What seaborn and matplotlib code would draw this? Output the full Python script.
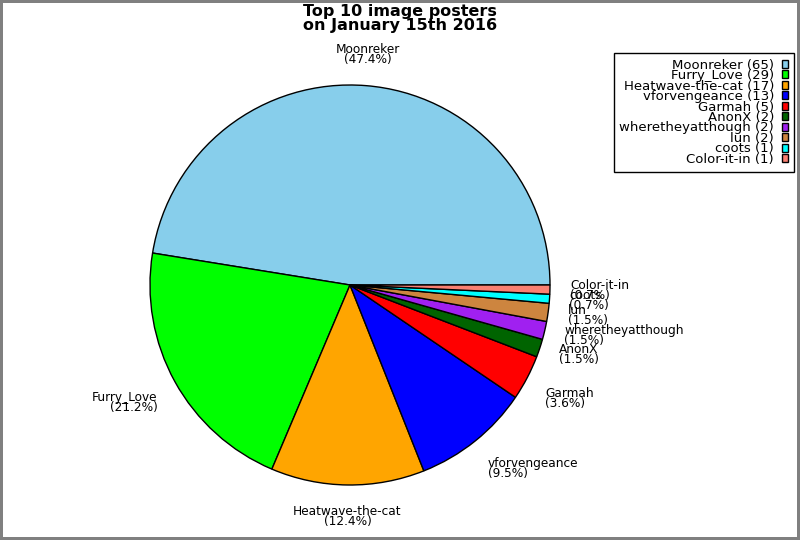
import matplotlib
matplotlib.use("Agg")
import matplotlib.pyplot as plt
import seaborn as sns

names = ["Moonreker", "Furry_Love", "Heatwave-the-cat", "vforvengeance", "Garmah",
         "AnonX", "wheretheyatthough", "lun", "coots", "Color-it-in"]
counts = [65, 29, 17, 13, 5, 2, 2, 2, 1, 1]
colors = ["skyblue", "lime", "orange", "blue", "red", "darkgreen", "#a020f0",
          "peru", "cyan", "salmon"]
title = "Top 10 image posters\non January 15th 2016"

sns.set_theme(style="white")
plt.rcParams['font.family'] = ['DejaVu Sans']
plt.rcParams['text.color'] = 'black'

fig = plt.figure(figsize=(8, 5.4), dpi=100)
fig.patch.set_facecolor("white")
fig.patch.set_edgecolor("#808080")
fig.patch.set_linewidth(3)

ax = fig.add_axes([150 / 800, 55 / 540, 400 / 800, 400 / 540])
total = sum(counts)
labels = [f"{n}\n({c / total * 100:.1f}%)" for n, c in zip(names, counts)]
wedges, texts = ax.pie(counts, colors=colors, labels=labels, labeldistance=1.1,
                       startangle=0, counterclock=True,
                       wedgeprops=dict(edgecolor="black", linewidth=1),
                       textprops=dict(fontsize=8.7, linespacing=0.7, color="black"))
ha_map = {0: 'left', 1: 'left', 2: 'center', 3: 'right', 4: 'right', 5: 'right', 6: 'center', 7: 'left'}
va_map = {0: 'center', 1: 'bottom', 2: 'bottom', 3: 'bottom', 4: 'center', 5: 'top', 6: 'top', 7: 'top'}
for w, t in zip(wedges, texts):
    ang = (w.theta1 + w.theta2) / 2
    sector = int(((ang + 22.5) % 360) // 45)
    t.set_ha(ha_map[sector])
    t.set_va(va_map[sector])
ax.set_xlim(-1, 1)
ax.set_ylim(-1, 1)
ax.set_aspect('equal')
ax.axis('off')

leg_labels = [f"{n} ({c})" for n, c in zip(names, counts)]
leg = fig.legend(wedges, leg_labels, loc='upper right',
                 bbox_to_anchor=(794 / 800, 1 - 53 / 540), bbox_transform=fig.transFigure,
                 borderaxespad=0, markerfirst=False, fancybox=False, frameon=True,
                 edgecolor='black', framealpha=1, fontsize=9.5, handlelength=0.5,
                 handleheight=0.55, handletextpad=0.6, labelspacing=-0.19, borderpad=0.42)
leg.get_frame().set_linewidth(1)
for txt in leg.get_texts():
    txt.set_color('black')

fig.text(0.5, 1 - 4 / 540, title, ha='center', va='top', fontsize=11.5,
         fontweight='bold', linespacing=0.9, color='black')

fig.savefig("out.png", dpi=100, facecolor=fig.get_facecolor(), edgecolor=fig.get_edgecolor())
